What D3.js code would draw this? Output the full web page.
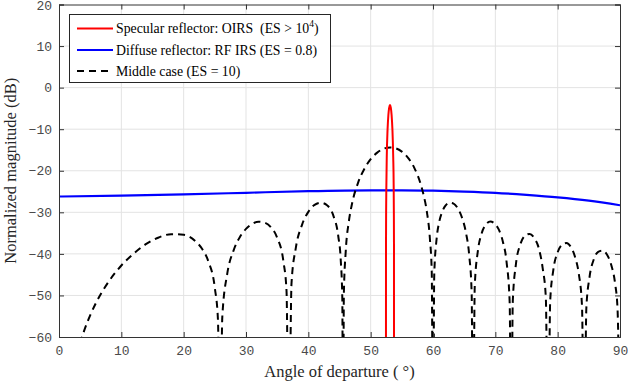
<!DOCTYPE html>
<html lang="en">
<head>
<meta charset="utf-8">
<title>Normalized magnitude vs angle of departure</title>
<script src="https://d3js.org/d3.v7.min.js"></script>
<style>
body { margin: 0; background: #fff; }
.tick text { font-family: "Liberation Mono", monospace; font-size: 13px; fill: #4a4a4a; }
.lbl { font-family: "Liberation Serif", "Times New Roman", serif; font-size: 16.5px; fill: #262626; }
.leg { font-family: "Liberation Serif", "Times New Roman", serif; font-size: 13.8px; fill: #000; }
</style>
</head>
<body>
<script>
// x ticks / y ticks
var xTicks = [0, 10, 20, 30, 40, 50, 60, 70, 80, 90];
var yTicks = [20, 10, 0, -10, -20, -30, -40, -50, -60];

// specular reflector (OIRS): angle, dB
var specAngle = [52.45, 52.46, 52.48, 52.52, 52.58, 52.71, 52.84, 52.97, 53.10, 53.23, 53.36, 53.49, 53.62, 53.69, 53.72, 53.74, 53.75];
var specDb    = [-90, -38.0, -29.8, -23.4, -16.8, -10.1, -6.6, -4.8, -4.2, -4.8, -6.6, -10.1, -16.8, -23.4, -29.8, -38.0, -90];

// diffuse reflector (RF IRS)
var diffAngle = [0, 10, 20, 30, 40, 50, 55, 60, 65, 70, 75, 80, 85, 90];
var diffDb    = [-26.2, -26.0, -25.7, -25.3, -24.9, -24.7, -24.7, -24.8, -25.0, -25.3, -25.8, -26.4, -27.2, -28.3];

// middle case (ES = 10)
var midAngle = [0, 2, 3, 4, 5, 6, 8, 10, 12, 14, 16, 18, 20, 22, 23, 24, 25, 25.5, 25.84,
  26.2, 27, 28, 29, 30, 31, 32, 33, 34, 35, 36, 36.5, 36.87,
  37.3, 38, 39, 40, 41, 42, 43, 44, 44.8, 45.2, 45.45, 45.57,
  45.7, 46, 46.5, 47, 48, 49, 50, 51, 52, 53.13, 54, 55, 56, 57, 58, 58.5, 59, 59.5, 59.8, 60,
  60.2, 60.6, 61, 61.5, 62, 62.7, 63.3, 64, 64.7, 65.3, 65.8, 66.2, 66.42,
  66.7, 67.2, 67.8, 68.5, 69.2, 69.8, 70.5, 71.2, 71.8, 72.3, 72.54,
  72.8, 73.3, 74, 74.7, 75.5, 76.2, 77, 77.6, 78.1, 78.46,
  78.8, 79.3, 80, 80.7, 81.4, 82.1, 82.8, 83.4, 83.9, 84.26,
  84.6, 85.1, 85.8, 86.5, 87.2, 87.9, 88.6, 89.2, 89.6, 90];
var midDb = [-90, -70.9, -63.7, -58.65, -54.8, -51.6, -46.6, -42.8, -39.9, -37.6, -36.05, -35.26, -35.4, -37.1, -38.9, -41.95, -48.2, -55.8, -90,
  -55.1, -44.7, -39.2, -36.0, -34.0, -32.8, -32.25, -32.5, -33.6, -36.1, -41.8, -48.9, -90,
  -47.1, -38.5, -32.95, -29.9, -28.2, -27.7, -28.3, -30.75, -35.7, -41.5, -50.8, -90,
  -49.6, -39.4, -32.2, -28.0, -22.8, -19.5, -17.2, -15.7, -14.75, -14.4, -14.6, -15.4, -16.9, -19.3, -23.1, -25.9, -29.7, -36.3, -44.5, -90,
  -45.0, -36.1, -32.3, -29.8, -28.4, -27.7, -27.9, -29.1, -31.5, -35.0, -40.2, -49.3, -90,
  -47.7, -39.3, -35.1, -32.9, -32.2, -32.6, -34.0, -37.0, -41.9, -51.7, -90,
  -51.4, -42.5, -37.75, -35.7, -35.2, -36.1, -38.8, -43.5, -50.5, -90,
  -51.4, -43.9, -39.6, -37.8, -37.4, -38.3, -40.8, -44.9, -52.4, -90,
  -53.1, -45.7, -41.3, -39.5, -39.2, -40.15, -42.7, -47.0, -53.1, -90];

var W = 628, H = 382;
var mLeft = 59, mRight = 620, mTop = 4.5, mBottom = 337;

var svg = d3.select("body").append("svg").attr("width", W).attr("height", H);

var x = d3.scaleLinear().domain([0, 90]).range([mLeft, mRight]);
var y = d3.scaleLinear().domain([-60, 20]).range([mBottom, mTop]);

// grid
svg.append("g").selectAll("line").data(xTicks.slice(1, -1)).enter().append("line")
    .attr("x1", d => x(d)).attr("x2", d => x(d)).attr("y1", mTop).attr("y2", mBottom)
    .attr("stroke", "#e3e3e3").attr("stroke-width", 1);
svg.append("g").selectAll("line").data(yTicks.slice(1, -1)).enter().append("line")
    .attr("y1", d => y(d)).attr("y2", d => y(d)).attr("x1", mLeft).attr("x2", mRight)
    .attr("stroke", "#e3e3e3").attr("stroke-width", 1);

svg.append("clipPath").attr("id", "clip").append("rect")
    .attr("x", mLeft).attr("y", mTop).attr("width", mRight - mLeft).attr("height", mBottom - mTop);

var plot = svg.append("g").attr("clip-path", "url(#clip)");

function zip(a, b) { return a.map((v, i) => [v, b[i]]); }
var line = d3.line().x(d => x(d[0])).y(d => y(d[1])).curve(d3.curveMonotoneX);

plot.append("path").datum(zip(diffAngle, diffDb)).attr("d", line)
    .attr("fill", "none").attr("stroke", "#0000ff").attr("stroke-width", 2.2);
plot.append("path").datum(zip(midAngle, midDb)).attr("d", line)
    .attr("fill", "none").attr("stroke", "#000").attr("stroke-width", 2)
    .attr("stroke-dasharray", "7,5");
plot.append("path").datum(zip(specAngle, specDb)).attr("d", line)
    .attr("fill", "none").attr("stroke", "#ff0000").attr("stroke-width", 2);

// axes
var xAxis = svg.append("g").attr("transform", "translate(0," + mBottom + ")")
    .call(d3.axisBottom(x).tickValues(xTicks).tickSize(-5).tickPadding(9).tickFormat(d3.format("d")));
var xTop = svg.append("g").attr("transform", "translate(0," + mTop + ")")
    .call(d3.axisTop(x).tickValues(xTicks).tickSize(-5).tickFormat(""));
var yAxis = svg.append("g").attr("transform", "translate(" + mLeft + ",0)")
    .call(d3.axisLeft(y).tickValues(yTicks).tickSize(-5).tickPadding(7).tickFormat(d => d < 0 ? "\u2212" + (-d) : d));
var yRight = svg.append("g").attr("transform", "translate(" + mRight + ",0)")
    .call(d3.axisRight(y).tickValues(yTicks).tickSize(-5).tickFormat(""));
[xAxis, xTop, yAxis, yRight].forEach(function(g) {
    g.select(".domain").attr("stroke", "#333").attr("stroke-width", 1);
    g.selectAll(".tick line").attr("stroke", "#333");
});
yAxis.selectAll(".tick text").filter(d => d === 20).attr("dy", "0.42em");

// legend
var lg = svg.append("g");
lg.append("rect").attr("x", 69.5).attr("y", 14.5).attr("width", 261).attr("height", 68)
    .attr("fill", "#fff").attr("stroke", "#262626").attr("stroke-width", 1);
var legItems = [
    {c: "#ff0000", dash: null, y: 28.5},
    {c: "#0000ff", dash: null, y: 50},
    {c: "#000", dash: "7,5", y: 71}
];
legItems.forEach(function(d) {
    lg.append("line").attr("x1", 77).attr("x2", 113).attr("y1", d.y).attr("y2", d.y)
        .attr("stroke", d.c).attr("stroke-width", 2).attr("stroke-dasharray", d.dash);
});
var t1 = lg.append("text").attr("class", "leg").attr("x", 116).attr("y", 33).style("white-space", "pre");
t1.append("tspan").text("Specular reflector: OIRS  (ES > 10");
t1.append("tspan").attr("dy", -6).attr("font-size", "9.5px").text("4");
t1.append("tspan").attr("dy", 6).text(")");
lg.append("text").attr("class", "leg").attr("x", 116).attr("y", 54.5).text("Diffuse reflector: RF IRS (ES = 0.8)");
lg.append("text").attr("class", "leg").attr("x", 116).attr("y", 75.5).text("Middle case (ES = 10)");

// axis labels
svg.append("text").attr("class", "lbl").attr("text-anchor", "middle")
    .attr("transform", "translate(16," + ((mTop + mBottom) / 2) + ") rotate(-90)")
    .text("Normalized magnitude (dB)");
svg.append("text").attr("class", "lbl").attr("text-anchor", "middle")
    .attr("x", (mLeft + mRight) / 2).attr("y", 377).style("white-space", "pre")
    .text("Angle of departure ( \u00b0)");
</script>
</body>
</html>
